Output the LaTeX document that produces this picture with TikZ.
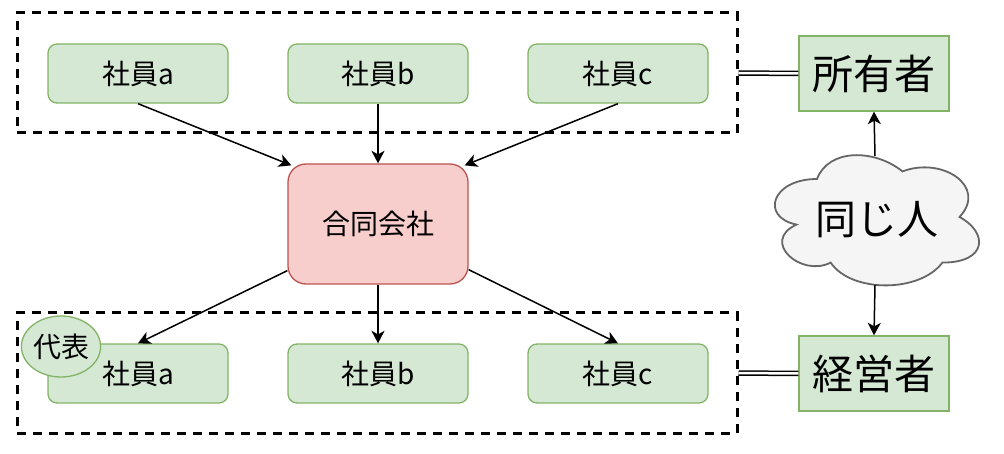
\documentclass[tikz,border=0pt]{standalone}
\usepackage{fontspec}
\setmainfont{Noto Sans CJK JP}
\usetikzlibrary{arrows.meta,calc,shapes.geometric}
\definecolor{gfill}{HTML}{D5E8D4}
\definecolor{gline}{HTML}{82B366}
\definecolor{rfill}{HTML}{F8CECC}
\definecolor{rline}{HTML}{B85450}
\definecolor{cfill}{HTML}{F5F5F5}
\definecolor{cline}{HTML}{666666}
\begin{document}
\begin{tikzpicture}[x=1pt,y=-1pt,
  emp/.style={draw=gline, fill=gfill, line width=1.3pt, rounded corners=9pt,
    minimum width=180pt, minimum height=59pt, inner sep=0pt,
    font=\fontsize{28}{28}\selectfont},
  comp/.style={draw=rline, fill=rfill, line width=1.3pt, rounded corners=18pt,
    minimum width=180pt, minimum height=120pt, inner sep=0pt,
    font=\fontsize{28}{28}\selectfont},
  role/.style={draw=gline, fill=gfill, line width=1.3pt,
    minimum width=150pt, minimum height=75pt, inner sep=0pt,
    font=\fontsize{41}{41}\selectfont},
  grp/.style={draw=black, line width=3pt, dash pattern=on 9pt off 7pt,
    minimum width=720pt, minimum height=120pt, inner sep=0pt},
  arr/.style={draw=black, line width=1.5pt, -{Stealth[length=12.5pt,width=13pt,inset=3.5pt]}},
  dbl/.style={draw=black, double=white, line width=1.5pt, double distance=2.5pt},
  rep/.style={ellipse, draw=gline, fill=gfill, line width=1.3pt,
    minimum width=76pt, minimum height=61pt, inner sep=0pt,
    font=\fontsize{28}{28}\selectfont}
]
\useasboundingbox (0,0) rectangle (1004,454);

% groups
\node[grp] (gtop) at (377,73) {};
\node[grp] (gbot) at (377,373) {};

% employees
\node[emp] (ta) at (138,73.5) {社員a};
\node[emp] (tb) at (378,73.5) {社員b};
\node[emp] (tc) at (618,73.5) {社員c};
\node[emp] (ba) at (138,373.5) {社員a};
\node[emp] (bb) at (378,373.5) {社員b};
\node[emp] (bc) at (618,373.5) {社員c};

% representative
\node[rep] (rep) at (61,346.5) {代表};

% company
\node[comp] (co) at (378,224) {合同会社};

% roles
\node[role] (own) at (874,73.5) {所有者};
\node[role] (mgr) at (874,373.5) {経営者};

% cloud
\begin{scope}[shift={(760,141)}, x=228pt, y=-152pt]
\draw[draw=cline, fill=cfill, line width=1.8pt]
  (0.25,0.25) .. controls (0.05,0.25) and (0,0.5) .. (0.16,0.55)
  .. controls (0,0.66) and (0.18,0.9) .. (0.31,0.8)
  .. controls (0.4,1) and (0.7,1) .. (0.8,0.8)
  .. controls (1,0.8) and (1,0.6) .. (0.875,0.5)
  .. controls (1,0.3) and (0.8,0.1) .. (0.625,0.2)
  .. controls (0.5,0.05) and (0.3,0.05) .. (0.25,0.25) -- cycle;
\end{scope}
\node[font=\fontsize{41}{41}\selectfont, inner sep=0pt] (same) at (877,220) {同じ人};
\coordinate (ctop) at (875,156);
\coordinate (cbot) at (875,285);

% connector points on company
\coordinate (ctl) at ($(co.north west)+(4,2)$);
\coordinate (ctr) at ($(co.north east)+(-4,2)$);
\coordinate (cbl) at ($(co.south west)+(0,-14)$);
\coordinate (cbr) at ($(co.south east)+(0,-15)$);

% arrows
\draw[arr] (ta.south) -- (ctl);
\draw[arr] (tb.south) -- (co.north);
\draw[arr] (tc.south) -- (ctr);
\draw[arr] (cbl) -- (ba.north);
\draw[arr] (co.south) -- (bb.north);
\draw[arr] (cbr) -- (bc.north);
\draw[arr] (ctop) -- (own.south);
\draw[arr] (cbot) -- (mgr.north);

% double connectors
\draw[dbl] (gtop.east) -- (own.west);
\draw[dbl] (gbot.east) -- (mgr.west);
\end{tikzpicture}
\end{document}
